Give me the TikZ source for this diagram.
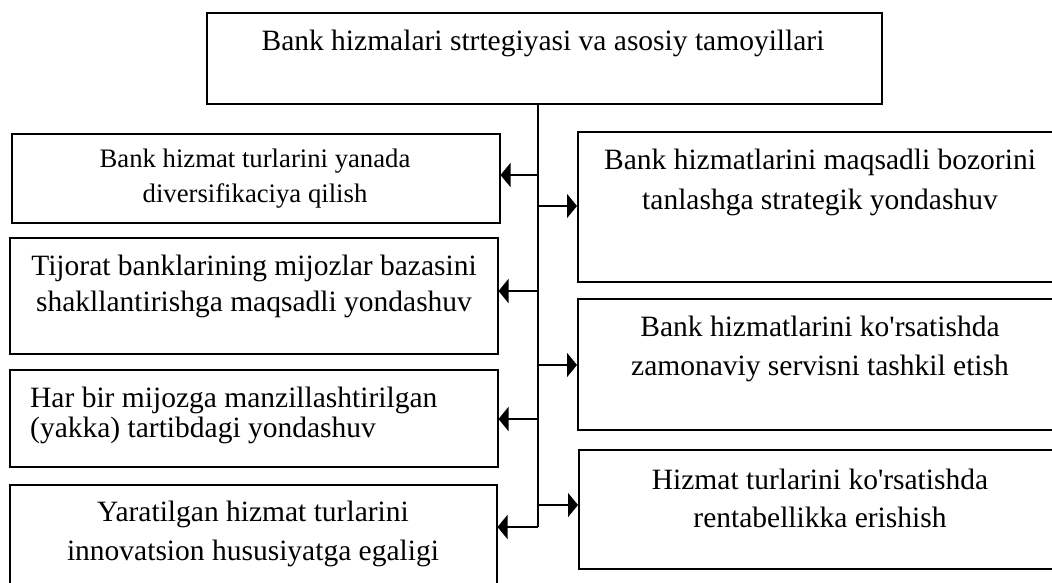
\documentclass[tikz,border=0pt]{standalone}
\usepackage{fontspec}
\setmainfont{Liberation Serif}
\usetikzlibrary{arrows.meta}
\begin{document}
\begin{tikzpicture}[x=1pt,y=-1pt,
  box/.style={draw, line width=1.5pt, inner sep=0pt, anchor=north west},
  txt/.style={inner sep=0pt, align=center},
  trunkline/.style={line width=1.5pt},
  arr/.style={line width=1.6pt, -{Triangle[length=10pt,width=24pt]}}]
\useasboundingbox (0,0) rectangle (1052,582);

% main box
\node[box, minimum width=675pt, minimum height=91pt] (top) at (206,12) {};
\node[txt, font=\fontsize{29.5}{34}\selectfont] (ttop) at (543,43)
  {Bank hizmalari strtegiyasi va asosiy tamoyillari};

% left column
\node[box, minimum width=488pt, minimum height=89pt] (L1) at (11,133) {};
\node[box, minimum width=488pt, minimum height=116pt] (L2) at (9,237) {};
\node[box, minimum width=488pt, minimum height=97pt] (L3) at (9,369) {};
\node[box, minimum width=487pt, minimum height=130pt] (L4) at (9,484) {};

\node[txt, font=\fontsize{26.7}{35}\selectfont] (tL1) at (255,178.5)
  {Bank hizmat turlarini yanada\\diversifikaciya qilish};
\node[txt, font=\fontsize{29.5}{36}\selectfont] (tL2) at (254,286)
  {Tijorat banklarining mijozlar bazasini\\shakllantirishga maqsadli yondashuv};
\node[txt, align=left, anchor=west, font=\fontsize{29.5}{30}\selectfont] (tL3) at (30,415)
  {Har bir mijozga manzillashtirilgan\\(yakka) tartibdagi yondashuv};
\node[txt, font=\fontsize{29.5}{39}\selectfont] (tL4) at (253,534)
  {Yaratilgan hizmat turlarini\\innovatsion hususiyatga egaligi};

% right column
\node[box, minimum width=485pt, minimum height=150pt] (R1) at (577,131) {};
\node[box, minimum width=485pt, minimum height=131pt] (R2) at (577,298) {};
\node[box, minimum width=485pt, minimum height=119pt] (R3) at (578,449) {};

\node[txt, font=\fontsize{29.5}{40}\selectfont] (tR1) at (820,182)
  {Bank hizmatlarini maqsadli bozorini\\tanlashga strategik yondashuv};
\node[txt, font=\fontsize{29.5}{39}\selectfont] (tR2) at (820,348.5)
  {Bank hizmatlarini ko\textquotesingle rsatishda\\zamonaviy servisni tashkil etish};
\node[txt, font=\fontsize{29.5}{38}\selectfont] (tR3) at (820,498)
  {Hizmat turlarini ko\textquotesingle rsatishda\\rentabellikka erishish};

% junctions on the trunk
\coordinate (j1) at (538,175);
\coordinate (j2) at (538,291);
\coordinate (j3) at (538,419);
\coordinate (j4) at (538,527);
\coordinate (k1) at (538,206);
\coordinate (k2) at (538,365);
\coordinate (k3) at (538,505);

\draw[trunkline] (top.south -| j1) -- (j4);

\draw[arr] (j1) -- (j1 -| L1.east);
\draw[arr] (j2) -- (j2 -| L2.east);
\draw[arr] (j3) -- (j3 -| L3.east);
\draw[arr] (j4) -- (j4 -| L4.east);

\draw[arr] (k1) -- (k1 -| R1.west);
\draw[arr] (k2) -- (k2 -| R2.west);
\draw[arr] (k3) -- (k3 -| R3.west);
\end{tikzpicture}
\end{document}
